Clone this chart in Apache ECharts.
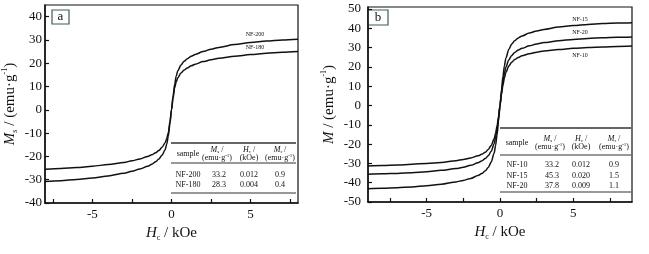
<!DOCTYPE html>
<html>
<head>
<meta charset="utf-8">
<script src="https://cdn.jsdelivr.net/npm/echarts@6/dist/echarts.min.js"></script>
<style>
  html, body { margin: 0; padding: 0; background: #fff; }
  #chart { width: 649px; height: 254px; }
</style>
</head>
<body>
<div id="chart"></div>
<script>
// panel a: field (kOe) and magnetisation (emu/g)
const fieldA = [-8, -7, -6, -5, -4, -3, -2.5, -2, -1.5, -1.25, -1, -0.8, -0.6, -0.4, -0.3, -0.2, -0.1,
    0, 0.1, 0.2, 0.3, 0.4, 0.6, 0.8, 1, 1.25, 1.5, 2, 2.5, 3, 4, 5, 6, 7, 8]
const nf200 = [-30.8, -30.4, -29.9, -29.3, -28.4, -27.2, -26.4, -25.4, -24.2, -23.4, -22.3, -21.1, -19.5, -17.1, -14.7, -11.2, -6.1,
    0, 6, 11, 14.5, 16.8, 19.2, 20.8, 21.9, 23.0, 23.8, 25.0, 26.0, 26.8, 28.0, 28.9, 29.5, 30.0, 30.3]
const nf180 = [-25.5, -25.2, -24.8, -24.2, -23.5, -22.6, -21.9, -21.1, -20.0, -19.3, -18.4, -17.5, -16.1, -14.1, -12.3, -9.7, -5.1,
    0, 5, 9.5, 12, 13.8, 15.8, 17.1, 18.0, 18.9, 19.6, 20.7, 21.5, 22.1, 23.0, 23.7, 24.3, 24.7, 25.0]

// panel b
const fieldB = [-9, -8, -7, -6, -5, -4, -3, -2.5, -2, -1.5, -1.25, -1, -0.8, -0.6, -0.4, -0.3, -0.2, -0.1,
    0, 0.1, 0.2, 0.3, 0.4, 0.6, 0.8, 1, 1.25, 1.5, 2, 2.5, 3, 4, 5, 6, 7, 8, 9]
const nf15 = [-43.1, -42.9, -42.6, -42.2, -41.6, -40.8, -39.6, -38.8, -37.8, -36.3, -35.3, -33.8, -32.1, -29.3, -24.7, -20.7, -15.1, -8.1,
    0, 8, 15, 20.5, 24.5, 29, 31.8, 33.5, 35, 36, 37.5, 38.6, 39.4, 40.6, 41.4, 42, 42.4, 42.7, 42.9]
const nf20 = [-35.6, -35.4, -35.2, -34.8, -34.3, -33.6, -32.7, -32.0, -31.0, -29.7, -28.8, -27.5, -26.0, -23.7, -19.9, -16.6, -12.1, -6.6,
    0, 6.5, 12, 16.5, 19.8, 23.6, 25.9, 27.4, 28.7, 29.6, 30.9, 31.9, 32.6, 33.5, 34.2, 34.7, 35.1, 35.3, 35.5]
const nf10 = [-31.3, -31.1, -30.8, -30.5, -30.0, -29.5, -28.6, -28.0, -27.2, -26.1, -25.3, -24.2, -22.8, -20.7, -17.3, -14.4, -10.7, -5.6,
    0, 5.5, 10.5, 14.2, 17, 20.4, 22.4, 23.8, 24.9, 25.7, 26.8, 27.6, 28.2, 29.0, 29.6, 30.0, 30.3, 30.6, 30.8]

// ticks
const xTicksA = [-7.5, -5, -2.5, 0, 2.5, 5, 7.5]
const xTicksB = [-7.5, -5, -2.5, 0, 2.5, 5, 7.5]
const xLabels = [-5, 0, 5]
const yTicksA = [-40, -30, -20, -10, 0, 10, 20, 30, 40]
const yTicksB = [-50, -40, -30, -20, -10, 0, 10, 20, 30, 40, 50]

// tables
const samplesA = ['NF-200', 'NF-180']
const msA = ['33.2', '28.3']
const hcA = ['0.012', '0.004']
const mrA = ['0.9', '0.4']
const samplesB = ['NF-10', 'NF-15', 'NF-20']
const msB = ['33.2', '45.3', '37.8']
const hcB = ['0.012', '0.020', '0.009']
const mrB = ['0.9', '1.5', '1.1']

const FONT = 'Liberation Serif'
const INK = '#111'

const pair = (xs, ys) => xs.map((x, i) => [x, ys[i]])

const nameRich = {
    i: { fontFamily: FONT, fontStyle: 'italic', fontSize: 15, color: INK, lineHeight: 18 },
    n: { fontFamily: FONT, fontSize: 15, color: INK, lineHeight: 18 },
    sub: { fontFamily: FONT, fontSize: 8, color: INK, lineHeight: 8, verticalAlign: 'bottom' },
    sup: { fontFamily: FONT, fontSize: 8, color: INK, lineHeight: 8, verticalAlign: 'top' }
}

const smallRich = {
    i: { fontFamily: FONT, fontStyle: 'italic', fontSize: 8, color: INK, lineHeight: 9 },
    n: { fontFamily: FONT, fontSize: 8, color: INK, lineHeight: 9 },
    sub: { fontFamily: FONT, fontSize: 5, color: INK, lineHeight: 5, verticalAlign: 'bottom' },
    sup: { fontFamily: FONT, fontSize: 5, color: INK, lineHeight: 5, verticalAlign: 'top' }
}

const xAxisFor = (idx, lim, ticks) => ({
    type: 'value',
    gridIndex: idx,
    min: -lim,
    max: lim,
    name: '{i|H}{sub|c}{n| / kOe}',
    nameLocation: 'middle',
    nameGap: 16,
    nameTextStyle: { rich: nameRich },
    axisLine: { onZero: false, lineStyle: { color: INK, width: 1.5 } },
    axisTick: { inside: true, length: 4, customValues: ticks, lineStyle: { color: INK, width: 1.2 } },
    axisLabel: { customValues: xLabels, margin: 5, fontFamily: FONT, fontSize: 13, color: INK },
    splitLine: { show: false }
})

const yAxisFor = (idx, min, max, ticks, name, gap, margin) => ({
    type: 'value',
    gridIndex: idx,
    min: min,
    max: max,
    name: name,
    nameLocation: 'middle',
    nameGap: gap,
    nameTextStyle: { rich: nameRich },
    axisLine: { onZero: false, lineStyle: { color: INK, width: 1.5 } },
    axisTick: { inside: true, length: 4, customValues: ticks, lineStyle: { color: INK, width: 1.2 } },
    axisLabel: { customValues: ticks, margin: margin, fontFamily: FONT, fontSize: 13, color: INK },
    splitLine: { show: false }
})

const curve = (idx, xs, ys) => ({
    type: 'line',
    xAxisIndex: idx,
    yAxisIndex: idx,
    data: pair(xs, ys),
    showSymbol: false,
    smooth: 0.3,
    smoothMonotone: 'x',
    lineStyle: { color: INK, width: 1.5 },
    silent: true
})

const txt = (x, y, text, size, align) => ({
    type: 'text',
    x: x,
    y: y,
    style: { text: text, fontFamily: FONT, fontSize: size || 8, fill: INK, align: align || 'center', verticalAlign: 'middle' }
})
const richTxt = (x, y, text) => ({
    type: 'text',
    x: x,
    y: y,
    style: { text: text, rich: smallRich, fill: INK, align: 'center', verticalAlign: 'middle' }
})
const hline = (x1, x2, y, w) => ({
    type: 'line',
    shape: { x1: x1, y1: y, x2: x2, y2: y },
    style: { stroke: '#333', lineWidth: w || 1 }
})

// build a table from the arrays
const buildTable = (cols, lines, headY, rowYs, samples, ms, hc, mr) => {
    const out = [
        hline(lines[0], lines[1], lines[2], 1.3),
        hline(lines[0], lines[1], lines[3], 1.1),
        hline(lines[0], lines[1], lines[4], 1.1),
        txt(cols[0], headY, 'sample'),
        richTxt(cols[1], headY - 4, '{i|M}{sub|s}{n| /}'),
        richTxt(cols[1], headY + 4, '{n|(emu·g}{sup|-1}{n|)}'),
        richTxt(cols[2], headY - 4, '{i|H}{sub|c}{n| /}'),
        richTxt(cols[2], headY + 4, '{n|(kOe)}'),
        richTxt(cols[3], headY - 4, '{i|M}{sub|r}{n| /}'),
        richTxt(cols[3], headY + 4, '{n|(emu·g}{sup|-1}{n|)}')
    ]
    samples.forEach((s, i) => {
        out.push(txt(cols[0], rowYs[i], s))
        out.push(txt(cols[1] + 2, rowYs[i], ms[i]))
        out.push(txt(cols[2], rowYs[i], hc[i]))
        out.push(txt(cols[3], rowYs[i], mr[i]))
    })
    return out
}

const tagBox = (x, y, w, h, letter) => ({
    type: 'group',
    children: [
        { type: 'rect', shape: { x: x, y: y, width: w, height: h }, style: { fill: '#fff', stroke: '#3f5f4c', lineWidth: 1.2 } },
        { type: 'text', x: x + w / 2, y: y + h / 2, style: { text: letter, fontFamily: FONT, fontSize: 13, fill: INK, align: 'center', verticalAlign: 'middle' } }
    ]
})

const graphics = [].concat(
    buildTable([188, 217, 249, 280], [171, 296, 143, 163, 193], 154, [175, 185], samplesA, msA, hcA, mrA),
    buildTable([517, 550, 581, 614], [500, 631, 128, 155, 192], 143, [165, 175.5, 186], samplesB, msB, hcB, mrB),
    [
        txt(255, 34, 'NF-200', 6),
        txt(255, 47, 'NF-180', 6),
        txt(580, 19, 'NF-15', 6),
        txt(580, 32, 'NF-20', 6),
        txt(580, 55, 'NF-10', 6),
        tagBox(52, 10, 17, 14, 'a'),
        tagBox(368, 10, 20, 15, 'b')
    ]
)

const chart = echarts.init(document.getElementById('chart'))
chart.setOption({
    backgroundColor: '#fff',
    animation: false,
    grid: [
        { left: 45, top: 5, width: 253, height: 198, show: true, borderColor: INK, borderWidth: 1.2 },
        { left: 368, top: 7, width: 264, height: 195, show: true, borderColor: INK, borderWidth: 1.2 }
    ],
    xAxis: [xAxisFor(0, 8, xTicksA), xAxisFor(1, 9, xTicksB)],
    yAxis: [
        yAxisFor(0, -40, 45, yTicksA, '{i|M}{sub|s}{n| / (emu·g}{sup|-1}{n|)}', 26, 3),
        yAxisFor(1, -50, 51, yTicksB, '{i|M}{n| / (emu·g}{sup|-1}{n|)}', 30, 7)
    ],
    series: [
        curve(0, fieldA, nf200),
        curve(0, fieldA, nf180),
        curve(1, fieldB, nf15),
        curve(1, fieldB, nf20),
        curve(1, fieldB, nf10)
    ],
    graphic: graphics
})
</script>
</body>
</html>
